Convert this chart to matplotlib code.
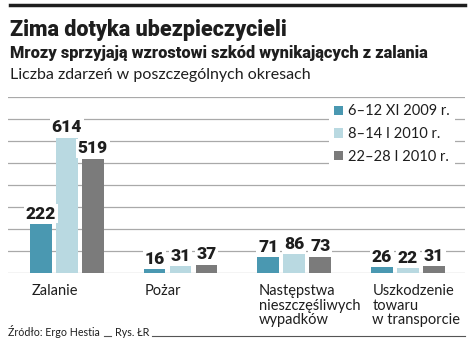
import matplotlib.pyplot as plt
from matplotlib.patches import Patch
from matplotlib.lines import Line2D

categories = ["Zalanie", "Pożar", "Następstwa\nnieszczęśliwych\nwypadków",
              "Uszkodzenie\ntowaru\nw transporcie"]
series_names = ["6–12 XI 2009 r.", "8–14 I 2010 r.", "22–28 I 2010 r."]
nov_2009 = [222, 16, 71, 26]
jan_8_2010 = [614, 31, 86, 22]
jan_22_2010 = [519, 37, 73, 31]
grid_ticks = [0, 100, 200, 300, 400, 500, 600, 700, 800]

colors = ["#4a98b1", "#b9d9e1", "#7b7b7b"]
grid_color = "#a9a9a9"
bold_font = ["Roboto", "DejaVu Sans"]
light_font = ["Lato", "DejaVu Sans"]

W, H = 475, 346
fig = plt.figure(figsize=(W / 100, H / 100), dpi=100)

# axes placed in pixel terms: left 8, right 465, baseline 273, top line 97
ax = fig.add_axes([8 / W, (H - 273) / H, 457 / W, 176 / H])
ax.set_xlim(-0.517, 3.503)
ax.set_ylim(0, 800)
ax.axis("off")

for t in grid_ticks:
    ax.axhline(t, color=grid_color, lw=0.9, zorder=1)

pitch = 0.2287
width = 0.189
all_series = [nov_2009, jan_8_2010, jan_22_2010]
for i, (vals, c) in enumerate(zip(all_series, colors)):
    xs = [g + (i - 1) * pitch for g in range(len(categories))]
    ax.bar(xs, vals, width=width, color=c, zorder=2)
    for x, v in zip(xs, vals):
        ax.annotate(str(v), (x, v), xytext=(0, 4), textcoords="offset points",
                    ha="center", va="baseline", fontsize=12.5, fontweight="heavy",
                    family=bold_font, color="#1e1e1e", zorder=3,
                    bbox=dict(boxstyle="square,pad=0.1", fc="white", ec="none"))

for g, name in enumerate(categories):
    left = g - pitch - width / 2
    ax.annotate(name, (left, 0), xytext=(1, -8), textcoords="offset points",
                ha="left", va="top", fontsize=10.5, family=light_font,
                color="#1e1e1e", linespacing=1.05, annotation_clip=False)

handles = [Patch(facecolor=c, edgecolor="none") for c in colors]
leg = ax.legend(handles, series_names, loc="upper left",
                bbox_to_anchor=(322 / W, 1 - 92 / H), bbox_transform=fig.transFigure,
                frameon=True, facecolor="white", edgecolor="none", framealpha=1,
                fancybox=False, handlelength=0.6, handleheight=0.6,
                handletextpad=0.35, labelspacing=0.6, borderpad=0.35,
                prop={"family": light_font, "size": 10.5})
leg.set_zorder(5)
for txt in leg.get_texts():
    txt.set_color("#1e1e1e")

# header
fig.add_artist(Line2D([10 / W, 465 / W], [1 - 5 / H, 1 - 5 / H], color="#1e1e1e", lw=2.5))
fig.text(10 / W, 1 - 36 / H, "Zima dotyka ubezpieczycieli", fontsize=15.5,
         fontweight="heavy", family=bold_font, color="#1e1e1e", va="baseline")
fig.text(10 / W, 1 - 58 / H, "Mrozy sprzyjają wzrostowi szkód wynikających z zalania",
         fontsize=11.8, fontweight="heavy", family=bold_font, color="#1e1e1e", va="baseline")
fig.text(10 / W, 1 - 79 / H, "Liczba zdarzeń w poszczególnych okresach",
         fontsize=11.5, family=light_font, color="#1e1e1e", va="baseline")

# source
fig.text(8 / W, 1 - 336 / H, "Źródło: Ergo Hestia", fontsize=7.7, family=light_font,
         color="#1e1e1e", va="baseline")
fig.text(115 / W, 1 - 336 / H, "Rys. ŁR", fontsize=7.7, family=light_font,
         color="#1e1e1e", va="baseline")
fig.add_artist(Line2D([104 / W, 111 / W], [1 - 336 / H] * 2, color="#555555", lw=0.8))
fig.add_artist(Line2D([152 / W, 465 / W], [1 - 336 / H] * 2, color="#555555", lw=0.8))

fig.savefig("out.png", dpi=100)
